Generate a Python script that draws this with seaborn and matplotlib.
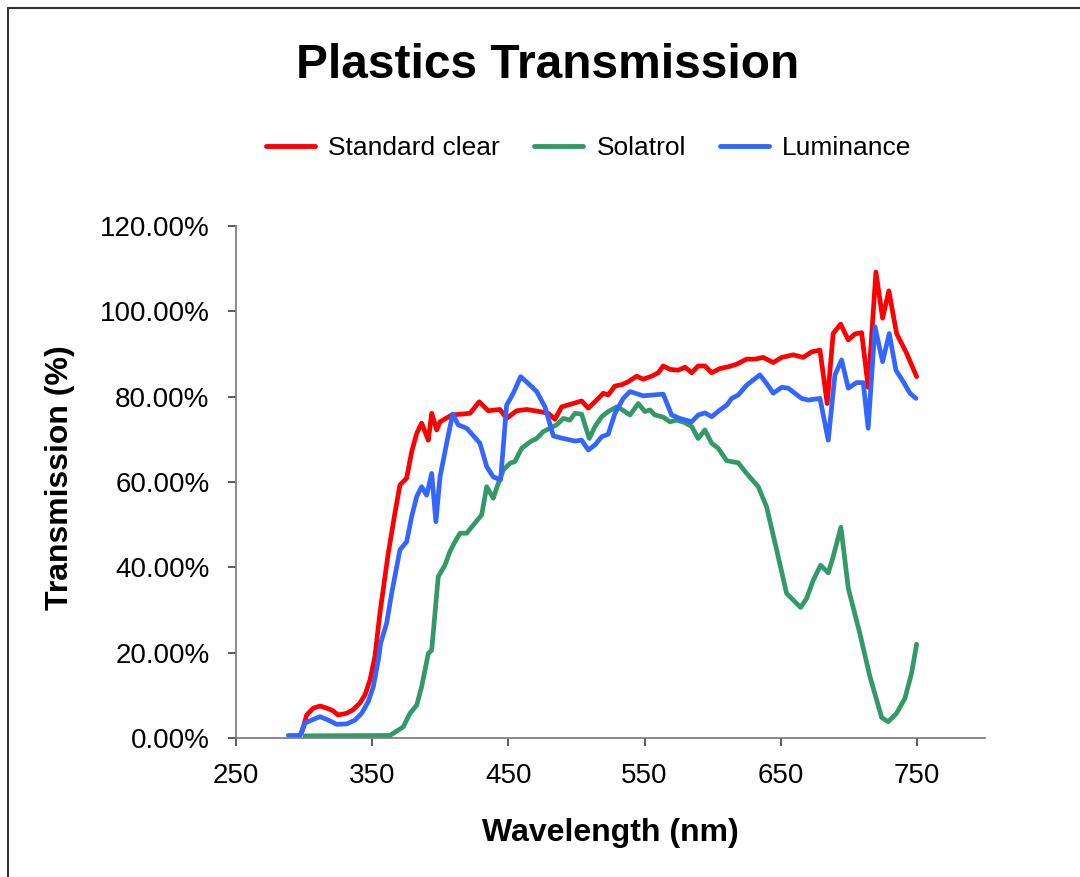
import matplotlib
matplotlib.use("Agg")
import matplotlib.pyplot as plt
from matplotlib.lines import Line2D
from matplotlib.ticker import FuncFormatter
import pandas as pd
import seaborn as sns

# ---------------- data ----------------
series_names = ["Standard clear", "Solatrol", "Luminance"]
series_colors = ["#FF0000", "#339966", "#3366FF"]

wl_std = [298.2, 301.9, 306.8, 311.7, 316.6, 321.2, 324.9, 331.3, 335.9, 341, 344.7, 348.4,
          352, 355.7, 361.8, 366.7, 370.4, 375.3, 379, 382.7, 386.3, 388.8, 391.2, 393.7,
          397.4, 399.8, 408.4, 421.8, 428.6, 435.2, 443.8, 448.7, 456.1, 463.4, 473.2, 479.3,
          484.2, 489.1, 496.5, 503.8, 508.7, 514.8, 519.7, 523.3, 528.3, 533.2, 538, 544.2,
          549, 555.2, 560.1, 563.7, 568.6, 574.7, 579.7, 584.6, 589.4, 594.3, 599.3, 605.4,
          611.4, 617.6, 625, 631, 637.1, 644.5, 650.7, 659.2, 666.5, 672.7, 678.8, 684.1,
          688.5, 694, 699.6, 704.5, 709.4, 714.2, 719.9, 724.8, 729.4, 735.1, 742.4, 749.8]
std_clear = [1.2, 5.4, 7.0, 7.5, 7.0, 6.4, 5.4, 5.8, 6.6, 8.2, 10.1, 13.6,
             19.1, 29.3, 43.3, 52.7, 59.3, 60.9, 67.1, 71.4, 73.8, 71.8, 69.8, 76.1,
             72.2, 74.1, 75.7, 76.1, 78.8, 76.7, 77.0, 74.9, 76.7, 77.0, 76.5, 76.1,
             74.7, 77.6, 78.3, 79.0, 77.3, 79.2, 80.8, 80.4, 82.5, 82.8, 83.5, 84.8,
             84.1, 84.8, 85.6, 87.2, 86.4, 86.2, 86.9, 85.6, 87.2, 87.2, 85.6, 86.6,
             87.0, 87.6, 88.8, 88.8, 89.2, 88.0, 89.2, 89.8, 89.2, 90.5, 90.9, 78.4,
             94.8, 97.0, 93.3, 94.7, 95.0, 82.2, 109.2, 98.4, 104.8, 94.8, 90.2, 84.7]

wl_sol = [300.7, 363, 365.5, 372.8, 377.8, 382.7, 386.3, 388.8, 391.2, 393.7, 396.1, 398.5,
          403.4, 407.1, 410.8, 414.5, 419.4, 424.2, 430.4, 434.1, 438.9, 442.6, 446.3, 451.2,
          454.8, 459.8, 465.9, 470.8, 475.6, 480.5, 485.5, 490.3, 495.2, 498.9, 503.8, 509.4,
          513.6, 518.5, 523.3, 529.5, 533.2, 539.3, 545.4, 550.3, 554, 557.6, 563.7, 568.6,
          573.6, 579.7, 584.6, 589.4, 594.3, 599.3, 604.1, 610.3, 618.8, 625, 633.5, 639.6,
          647, 654.3, 664.6, 669, 673.9, 679.3, 684.9, 688.5, 694.2, 699.6, 708.1, 715.5,
          724.1, 728.9, 735.1, 741.2, 746.1, 749.8]
solatrol = [0.5, 0.6, 1.1, 2.6, 5.8, 7.7, 12.0, 15.9, 19.8, 20.6, 29.2, 37.8,
            40.5, 43.7, 46.0, 48.0, 48.0, 49.9, 52.3, 58.9, 56.2, 59.7, 62.8, 64.4,
            64.8, 67.9, 69.4, 70.2, 71.8, 72.6, 73.4, 74.9, 74.5, 76.1, 75.9, 70.2,
            73.0, 75.3, 76.5, 77.6, 77.0, 75.7, 78.4, 76.5, 76.9, 75.7, 75.2, 74.1,
            74.5, 73.9, 73.0, 70.2, 72.2, 69.1, 67.9, 65.0, 64.5, 62.0, 58.9, 54.2,
            44.1, 33.9, 30.6, 32.7, 37.0, 40.5, 38.7, 42.5, 49.4, 35.1, 24.5, 14.4,
            4.8, 3.8, 5.8, 9.3, 15.2, 22.0]

wl_lum = [288.4, 297, 300.7, 305.6, 311.7, 317.8, 323.9, 331.3, 337.4, 342.3, 347.1, 350.8,
          354.5, 356.2, 360.6, 364.3, 370.4, 375.3, 379, 382.7, 386.3, 390, 393.7, 396.8,
          399.8, 404.7, 409.1, 413.2, 419.4, 429.1, 434.1, 438.9, 444.3, 448.7, 453.6, 459,
          464.6, 470.8, 476.9, 483, 490.3, 498.9, 503.8, 508.7, 513.6, 518.5, 523.3, 528.3,
          534.4, 539.3, 549, 563.7, 569.9, 576, 584.6, 589.4, 594.3, 599.3, 605.4, 610.3,
          614, 618.8, 625, 629.8, 634.7, 639.6, 644.5, 650.7, 655.5, 660.4, 665.3, 670.2,
          678.8, 684.9, 689.8, 694.7, 699.6, 705.7, 710.6, 714.2, 719.2, 724.8, 729.7, 734.6,
          740, 744.9, 749.3]
luminance = [0.6, 0.6, 3.5, 4.2, 5.0, 4.2, 3.2, 3.3, 4.2, 5.8, 8.5, 12.0,
             18.3, 22.2, 26.9, 33.9, 44.1, 46.0, 51.9, 56.6, 58.9, 56.9, 62.0, 50.7,
             61.2, 69.1, 75.9, 73.4, 72.6, 69.1, 63.6, 61.2, 60.5, 78.0, 80.8, 84.7,
             83.1, 81.2, 77.6, 70.8, 70.2, 69.6, 69.8, 67.5, 68.7, 70.6, 71.2, 76.1,
             79.6, 81.2, 80.2, 80.6, 75.7, 74.9, 74.1, 75.7, 76.2, 75.3, 76.9, 78.0,
             79.6, 80.4, 82.7, 83.9, 85.1, 83.1, 80.8, 82.2, 82.0, 80.8, 79.6, 79.2,
             79.6, 69.8, 85.1, 88.6, 82.0, 83.3, 83.3, 72.6, 96.4, 88.2, 94.8, 86.2,
             83.5, 80.8, 79.6]

x_ticks = [250, 350, 450, 550, 650, 750]
y_ticks = [0, 20, 40, 60, 80, 100, 120]

title = "Plastics Transmission"
x_label = "Wavelength (nm)"
y_label = "Transmission (%)"

# ---------------- build table ----------------
frames = []
for name, wl, vals in zip(series_names, [wl_std, wl_sol, wl_lum],
                          [std_clear, solatrol, luminance]):
    frames.append(pd.DataFrame({"Wavelength": wl, "Transmission": vals, "Series": name}))
df = pd.concat(frames, ignore_index=True)

# ---------------- style ----------------
sns.set_theme(style="white")
plt.rcParams["font.family"] = ["Liberation Sans", "DejaVu Sans"]
plt.rcParams["text.color"] = "black"
plt.rcParams["axes.labelcolor"] = "black"
plt.rcParams["xtick.color"] = "#404040"
plt.rcParams["ytick.color"] = "#404040"

W, H = 1080, 877
fig = plt.figure(figsize=(W / 100, H / 100), dpi=100)
fig.patch.set_facecolor("white")

ax = fig.add_axes([236 / W, 1 - 738 / H, (985 - 236) / W, (738 - 226) / H])

sns.lineplot(data=df, x="Wavelength", y="Transmission", hue="Series",
             hue_order=series_names, palette=dict(zip(series_names, series_colors)),
             estimator=None, sort=False, linewidth=3.4, ax=ax, legend=True)

ax.set_xlim(250, 800)
ax.set_ylim(0, 120)
ax.set_xticks(x_ticks)
ax.set_yticks(y_ticks)
ax.yaxis.set_major_formatter(FuncFormatter(lambda v, p: f"{v:.2f}%"))

for side in ["top", "right"]:
    ax.spines[side].set_visible(False)
for side in ["left", "bottom"]:
    ax.spines[side].set_color("#808080")
    ax.spines[side].set_linewidth(1.3)

ax.tick_params(axis="both", which="major", direction="out", length=6, width=1.2,
               color="#404040", labelsize=20, labelcolor="black",
               bottom=True, left=True, top=False, right=False)
ax.tick_params(axis="y", pad=13)
ax.tick_params(axis="x", pad=12)

ax.set_xlabel(x_label, fontsize=23, fontweight="bold", color="black")
ax.set_ylabel(y_label, fontsize=23, fontweight="bold", color="black")
ax.xaxis.set_label_coords(0.5, -(833 - 738) / (738 - 226))
ax.xaxis.label.set_va("center")
ax.yaxis.set_label_coords(-(236 - 60) / (985 - 236), (738 - 478) / (738 - 226))
ax.yaxis.label.set_va("center")

# legend at top
handles, labels = ax.get_legend_handles_labels()
ax.get_legend().remove()
for h in handles:
    h.set_linewidth(3.5)
leg = fig.legend(handles, labels, loc="center", bbox_to_anchor=(589 / W, 1 - 148 / H),
                 ncol=3, frameon=False, fontsize=19, handlelength=1.85, handletextpad=0.5,
                 columnspacing=1.3)
for t in leg.get_texts():
    t.set_color("black")

fig.text(548 / W, 1 - 66 / H, title, ha="center", va="center",
         fontsize=34.5, fontweight="bold", color="black")

# partial chart border (left and top edges visible in reference)
fig.add_artist(Line2D([8 / W, 8 / W], [0, 1 - 8 / H], transform=fig.transFigure,
                      color="#333333", linewidth=1.5))
fig.add_artist(Line2D([8 / W, 1], [1 - 8 / H, 1 - 8 / H], transform=fig.transFigure,
                      color="#333333", linewidth=1.5))

fig.savefig("out.png", dpi=100, facecolor="white")
